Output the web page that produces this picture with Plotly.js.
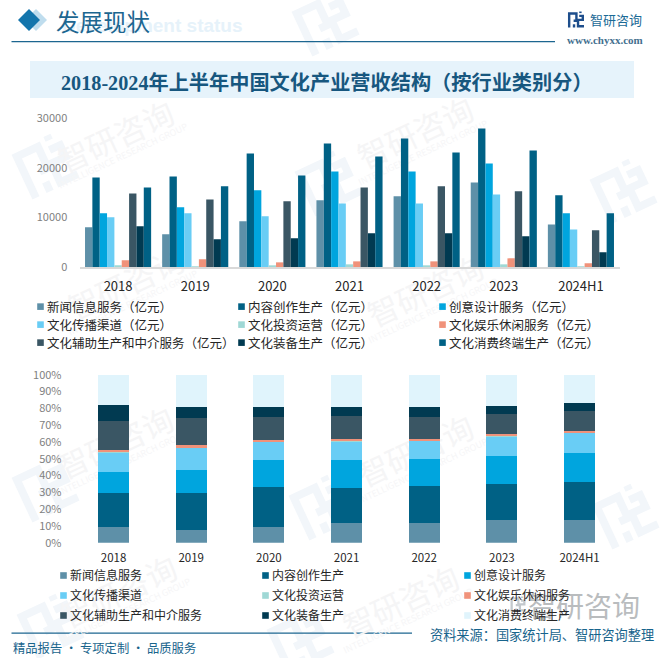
<!DOCTYPE html>
<html lang="zh">
<head>
<meta charset="utf-8">
<script src="https://cdn.plot.ly/plotly-3.0.1.min.js"></script>
<style>
html,body{margin:0;padding:0;background:#fff;width:665px;height:658px;overflow:hidden}
.layer{position:absolute;left:0;top:0;width:665px;height:658px}
</style>
</head>
<body>
<div id="bg" class="layer"></div>
<div id="upper" class="layer"></div>
<div id="lower" class="layer"></div>
<script>
// ---------- data (亿元) ----------
const years = ['2018','2019','2020','2021','2022','2023','2024H1'];
const xinwen   = [8010, 6600, 9220, 13460, 14270, 17090, 8610];
const neirong  = [18100, 18300, 22950, 24970, 25980, 28000, 14470];
const chuangyi = [10840, 12050, 15480, 19300, 19300, 20930, 10840];
const chuanbo  = [10030, 10840, 10230, 12850, 12850, 14670, 7600];
const touzi    = [340, 130, 340, 540, 340, 540, 130];
const yule     = [1350, 1550, 940, 1140, 1140, 1750, 740];
const fuzhu    = [14870, 13660, 13260, 16080, 16290, 15280, 7400];
const zhuangbei= [8210, 5590, 5790, 6800, 6800, 6190, 2960];
const xiaofei  = [16080, 16290, 18500, 22340, 23150, 23550, 10840];

const seriesNames = ['新闻信息服务','内容创作生产','创意设计服务','文化传播渠道','文化投资运营','文化娱乐休闲服务','文化辅助生产和中介服务','文化装备生产','文化消费终端生产'];
const seriesValues = [xinwen, neirong, chuangyi, chuanbo, touzi, yule, fuzhu, zhuangbei, xiaofei];
const upperColors = ['#5E90A8','#006185','#00A5DE','#69CDF5','#9FD8D5','#F0927A','#3A5664','#013A51','#006185'];
const lowerColors = ['#5E90A8','#006185','#00A5DE','#69CDF5','#9FD8D5','#F0927A','#3A5664','#013A51','#E0F4FC'];
const pctTicks = [0,10,20,30,40,50,60,70,80,90,100];
const pctLabels = ['0%','10%','20%','30%','40%','50%','60%','70%','80%','90%','100%'];

// ---------- helpers ----------
const W = 665, H = 658, PW = 625;
const CJK = '"Noto Sans CJK SC","Noto Sans",sans-serif';
const fx = p => p / PW, fy = p => 1 - p / H;
const bx = p => p / W;
const common = {
  width: W, height: H,
  margin: {l:0, r:W-PW, t:0, b:0, autoexpand:false},
  paper_bgcolor: 'rgba(0,0,0,0)', plot_bgcolor: 'rgba(0,0,0,0)',
  font: {family: CJK}
};

function logoPaths(cx, cy, s, ang, color) {
  const a = ang * Math.PI / 180;
  const t = ([x,y]) => {
    const X = cx + s*(x*Math.cos(a) - y*Math.sin(a));
    const Y = cy + s*(x*Math.sin(a) + y*Math.cos(a));
    return bx(X).toFixed(4) + ',' + (1 - Y/H).toFixed(4);
  };
  const poly = pts => 'M' + pts.map(t).join(' L') + ' Z';
  const parts = [
    [[-10,-9],[2,-9],[2,3],[-3,3],[-3,0],[-1,0],[-1,-6],[-7,-6],[-7,10],[-10,10]],
    [[-4,6],[-1,6],[-1,10],[-4,10]],
    [[4,-6],[10,-6],[10,2],[4,2],[4,7],[10,7],[10,10],[1,10],[1,-1],[7,-1],[7,-3],[4,-3]],
    [[4,-10],[7,-10],[7,-8],[4,-8]]
  ];
  return parts.map(p => ({type:'path', xref:'paper', yref:'paper', path:poly(p), fillcolor:color, line:{width:0}, layer:'below'}));
}

// ---------- background: header, footer, watermarks ----------
const wmText = [[115,135],[415,132],[125,282],[425,290],[115,442],[415,450],[118,590],[400,600]];
const wmLogo = [[45,165],[328,182],[623,190],[45,488],[322,506],[625,515],[325,22],[50,625],[300,640]];
const bgAnn = [];
const txt = (x,y,text,size,color,anchor,extra) => Object.assign({
  xref:'paper', yref:'paper', x:bx(x), y:1-y/H, text, showarrow:false, xanchor:anchor||'left', yanchor:'middle',
  font:{family:CJK, size, color}
}, extra||{});
wmText.forEach(([x,y]) => {
  bgAnn.push(txt(x,y,'智研咨询',31,'#F5F5F6','center',{textangle:-25}));
  bgAnn.push(txt(x+8,y+20,'INTELLIGENCE RESEARCH GROUP',9,'#F6F6F7','center',{textangle:-25}));
});
bgAnn.push(txt(60,25,'Development status',19,'#E6F2FA','left',{font:{family:'"Liberation Sans",sans-serif',size:19,color:'#E6F2FA',weight:700}}));
bgAnn.push(txt(54,21,'发展现状',23.5,'#1C6690','left'));
bgAnn.push(txt(588,20,'智研咨询',13,'#1B6A96','left'));
bgAnn.push(txt(605,40,'www.chyxx.com',11,'#44708F','center',{font:{family:'"Liberation Serif",serif',size:11,color:'#44708F',weight:700}}));
bgAnn.push(txt(326.5,82,'2018-2024年上半年中国文化产业营收结构（按行业类别分）',20.2,'#17577F','center',{font:{family:'"Liberation Serif","Noto Sans CJK SC",serif',size:20.2,color:'#17577F',weight:700}}));
bgAnn.push(txt(11,648,'精品报告 · 专项定制 · 品质服务',12.3,'#17648C','left'));
bgAnn.push(txt(428,634,'资料来源：国家统计局、智研咨询整理',13.2,'#17648C','left'));
bgAnn.push(txt(526,605,'智研咨询',28,'#B9BCBE','left'));

const rect = (x0,y0,x1,y1,color) => ({type:'rect',xref:'paper',yref:'paper',x0:bx(x0),x1:bx(x1),y0:1-y0/H,y1:1-y1/H,fillcolor:color,line:{width:0},layer:'below'});
const diamond = (cx,cy,r,color) => ({type:'path',xref:'paper',yref:'paper',
  path:`M${bx(cx-r)},${1-cy/H} L${bx(cx)},${1-(cy-r)/H} L${bx(cx+r)},${1-cy/H} L${bx(cx)},${1-(cy+r)/H} Z`,
  fillcolor:color,line:{width:0},layer:'below'});
let bgShapes = [];
wmLogo.forEach(([x,y]) => { bgShapes = bgShapes.concat(logoPaths(x,y,2.6,-25,'#F2F6FA')); });
bgShapes = bgShapes.concat(logoPaths(518,604,0.75,0,'#C3C8CC'));
bgShapes.push(rect(30,61,634,98,'#E6F3FB'));
bgShapes.push(rect(11.5,41,555,42.3,'#1C6690'));
bgShapes.push(rect(11.5,632.4,412,633.7,'#1C6690'));
bgShapes.push(diamond(36,20,11,'#BFDDEE'));
bgShapes.push(diamond(29,20,11,'#1475AC'));
bgShapes = bgShapes.concat(logoPaths(576,19.5,0.8,0,'#1E4E8C'));

Plotly.newPlot('bg', [], Object.assign({}, common, {
  margin:{l:0,r:0,t:0,b:0,autoexpand:false},
  xaxis:{visible:false}, yaxis:{visible:false},
  shapes:bgShapes, annotations:bgAnn
}), {staticPlot:true, displayModeBar:false});

// ---------- upper chart: grouped bars ----------
const upperTraces = seriesNames.map((n,i) => ({
  type:'bar', name:n+'（亿元）', x:years, y:seriesValues[i], marker:{color:upperColors[i], line:{width:0}}
}));
Plotly.newPlot('upper', upperTraces, Object.assign({}, common, {
  barmode:'group', bargap:0.143, bargroupgap:0,
  xaxis:{domain:[fx(79.5),fx(619.5)], type:'category', showgrid:false, zeroline:false,
    showline:true, linecolor:'#D9D9D9', linewidth:1.5, ticks:'outside', ticklen:7, tickcolor:'rgba(0,0,0,0)',
    tickfont:{family:CJK,size:13,color:'#262626'}, tickangle:0},
  yaxis:{domain:[fy(267),fy(118.5)], range:[0,30000], tickvals:[0,10000,20000,30000], ticktext:['0','10000','20000','30000'],
    showgrid:false, zeroline:false, showline:false, ticks:'outside', ticklen:9, tickcolor:'rgba(0,0,0,0)',
    tickfont:{family:CJK,size:11,color:'#7F7F7F'}},
  legend:{orientation:'h', traceorder:'normal', x:fx(7), y:fy(292), xanchor:'left', yanchor:'top', bgcolor:'rgba(0,0,0,0)',
    entrywidth:156, entrywidthmode:'pixels', font:{family:CJK,size:12.5,color:'#262626'}}
}), {staticPlot:true, displayModeBar:false}).then(() => tweakLegend('upper', 18));

// ---------- lower chart: 100% stacked bars ----------
const lowerTraces = seriesNames.map((n,i) => ({
  type:'bar', name:n, x:years, y:seriesValues[i], marker:{color:lowerColors[i], line:{width:0}}
}));
Plotly.newPlot('lower', lowerTraces, Object.assign({}, common, {
  barmode:'stack', barnorm:'percent', bargap:0.6,
  xaxis:{domain:[fx(74.7),fx(618.4)], type:'category', showgrid:false, zeroline:false, showline:false,
    ticks:'outside', ticklen:4, tickcolor:'rgba(0,0,0,0)', tickfont:{family:CJK,size:11.5,color:'#262626'}, tickangle:0},
  yaxis:{domain:[fy(542.7),fy(374.7)], range:[0,100], tickvals:pctTicks, ticktext:pctLabels,
    showgrid:false, zeroline:false, showline:false, ticks:'outside', ticklen:10, tickcolor:'rgba(0,0,0,0)',
    tickfont:{family:CJK,size:11,color:'#7F7F7F'}},
  legend:{orientation:'h', traceorder:'normal', x:fx(30), y:fy(561), xanchor:'left', yanchor:'top', bgcolor:'rgba(0,0,0,0)',
    entrywidth:157, entrywidthmode:'pixels', font:{family:CJK,size:12,color:'#262626'}}
}), {staticPlot:true, displayModeBar:false}).then(() => tweakLegend('lower', 20));

// small square swatches next to their label, and the reference's row spacing
function tweakLegend(id, rowStep) {
  const items = Array.from(document.querySelectorAll('#' + id + ' .legend .traces'));
  const rows = [];
  items.forEach(g => {
    const m = /translate\(([-\d.]+)[ ,]+([-\d.]+)\)/.exec(g.getAttribute('transform') || '');
    if (m) {
      const x = +m[1], y = +m[2];
      let r = rows.indexOf(y);
      if (r < 0) { rows.push(y); r = rows.length - 1; }
      g.setAttribute('transform', `translate(${x},${rows[0] + r * rowStep})`);
    }
    g.querySelectorAll('.legendpoints path').forEach(p => {
      p.setAttribute('d','M3.3,3.3H-3.3V-3.3H3.3Z');
      p.setAttribute('transform','translate(33.5,0)');
    });
  });
}
</script>
</body>
</html>
